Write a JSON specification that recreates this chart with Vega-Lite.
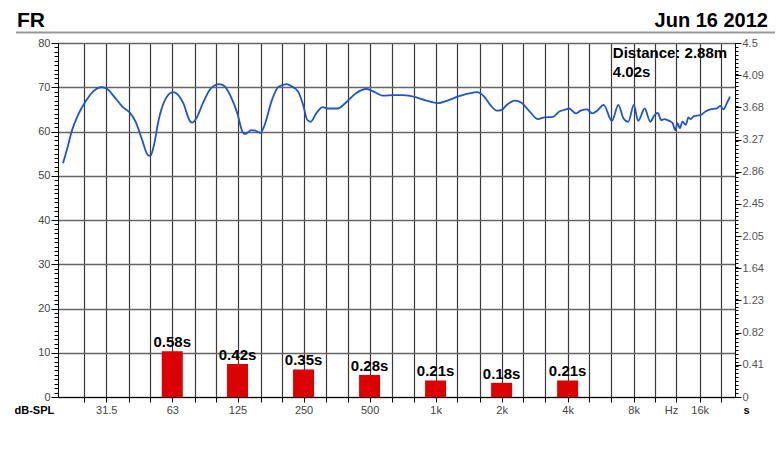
{
  "$schema": "https://vega.github.io/schema/vega-lite/v6.json",
  "autosize": {"type": "none"},
  "width": 677,
  "height": 354,
  "padding": {"left": 58, "top": 43, "right": 45, "bottom": 57},
  "background": "white",
  "config": {
    "font": "Liberation Sans",
    "view": {"stroke": null},
    "axis": {"labelFont": "Liberation Sans", "titleFont": "Liberation Sans", "domainColor": "#000", "tickColor": "#000"}
  },
  "datasets": {
    "fr": [
      {"freq": 20, "db": 52.8}, {"freq": 21.0, "db": 56.5}, {"freq": 21.9, "db": 60.0}, {"freq": 23.4, "db": 63.7},
      {"freq": 25.3, "db": 66.7}, {"freq": 27.4, "db": 69.0}, {"freq": 29.9, "db": 70.0}, {"freq": 31.4, "db": 69.8},
      {"freq": 34.2, "db": 67.9}, {"freq": 37.3, "db": 65.6}, {"freq": 40.4, "db": 64.2}, {"freq": 42.9, "db": 62.2},
      {"freq": 45.9, "db": 58.1}, {"freq": 48.7, "db": 54.7}, {"freq": 50.1, "db": 54.5}, {"freq": 51.8, "db": 56.6},
      {"freq": 54.6, "db": 62.6}, {"freq": 57.5, "db": 66.4}, {"freq": 63.3, "db": 68.9}, {"freq": 65.9, "db": 68.6},
      {"freq": 70.7, "db": 66.4}, {"freq": 76.2, "db": 62.2}, {"freq": 77.8, "db": 62.0}, {"freq": 81.1, "db": 63.0},
      {"freq": 86.9, "db": 66.4}, {"freq": 94.7, "db": 69.8}, {"freq": 103.3, "db": 70.7}, {"freq": 108.8, "db": 70.3},
      {"freq": 116.5, "db": 67.9}, {"freq": 124.8, "db": 64.1}, {"freq": 131.4, "db": 60.0}, {"freq": 135.2, "db": 59.4},
      {"freq": 144.7, "db": 60.3}, {"freq": 150.8, "db": 60.2}, {"freq": 158.9, "db": 59.7}, {"freq": 166.2, "db": 61.5},
      {"freq": 179.3, "db": 67.1}, {"freq": 192.1, "db": 70.1}, {"freq": 209.4, "db": 70.7}, {"freq": 220.5, "db": 70.2},
      {"freq": 236.4, "db": 69.0}, {"freq": 248.9, "db": 66.0}, {"freq": 260.2, "db": 62.6}, {"freq": 269.3, "db": 62.2},
      {"freq": 285.6, "db": 64.1}, {"freq": 306.1, "db": 65.5}, {"freq": 322.3, "db": 65.2}, {"freq": 357.5, "db": 65.2},
      {"freq": 389.6, "db": 66.5}, {"freq": 432, "db": 68.6}, {"freq": 484, "db": 69.6}, {"freq": 513, "db": 69.2},
      {"freq": 579, "db": 68.1}, {"freq": 642, "db": 68.2}, {"freq": 712, "db": 68.2}, {"freq": 818, "db": 67.7},
      {"freq": 907, "db": 67.0}, {"freq": 1023, "db": 66.4}, {"freq": 1134, "db": 67.0}, {"freq": 1280, "db": 68.0},
      {"freq": 1419, "db": 68.6}, {"freq": 1547, "db": 68.9}, {"freq": 1658, "db": 68.0}, {"freq": 1776, "db": 66.0},
      {"freq": 1903, "db": 64.7}, {"freq": 2004, "db": 64.9}, {"freq": 2110, "db": 66.0}, {"freq": 2302, "db": 67.0},
      {"freq": 2464, "db": 66.5}, {"freq": 2688, "db": 64.5}, {"freq": 2929, "db": 62.8}, {"freq": 3138, "db": 63.2},
      {"freq": 3420, "db": 63.3}, {"freq": 3666, "db": 64.5}, {"freq": 3924, "db": 65.0}, {"freq": 4064, "db": 65.2},
      {"freq": 4354, "db": 64.1}, {"freq": 4582, "db": 64.7}, {"freq": 4911, "db": 65.0}, {"freq": 5174, "db": 64.1},
      {"freq": 5450, "db": 64.7}, {"freq": 5840, "db": 66.0}, {"freq": 6361, "db": 62.4}, {"freq": 6817, "db": 66.0},
      {"freq": 7180, "db": 63.0}, {"freq": 7563, "db": 62.2}, {"freq": 8014, "db": 66.0}, {"freq": 8388, "db": 62.4},
      {"freq": 8979, "db": 65.2}, {"freq": 9526, "db": 62.2}, {"freq": 9961, "db": 63.7}, {"freq": 10313, "db": 64.2},
      {"freq": 10675, "db": 62.6}, {"freq": 11046, "db": 62.8}, {"freq": 11632, "db": 62.4}, {"freq": 12044, "db": 61.9},
      {"freq": 12375, "db": 60.3}, {"freq": 12686, "db": 61.9}, {"freq": 12990, "db": 60.7}, {"freq": 13364, "db": 62.2},
      {"freq": 13826, "db": 61.5}, {"freq": 14216, "db": 63.2}, {"freq": 14557, "db": 62.8}, {"freq": 15066, "db": 63.5},
      {"freq": 16146, "db": 63.7}, {"freq": 17003, "db": 64.5}, {"freq": 17904, "db": 65.0}, {"freq": 19188, "db": 65.2},
      {"freq": 19858, "db": 65.8}, {"freq": 20537, "db": 65.0}, {"freq": 21280, "db": 66.4}, {"freq": 22000, "db": 67.9}
    ],
    "rt": [
      {"freq": 63, "rt": 0.58, "label": "0.58s"},
      {"freq": 125, "rt": 0.42, "label": "0.42s"},
      {"freq": 250, "rt": 0.35, "label": "0.35s"},
      {"freq": 500, "rt": 0.28, "label": "0.28s"},
      {"freq": 1000, "rt": 0.21, "label": "0.21s"},
      {"freq": 2000, "rt": 0.18, "label": "0.18s"},
      {"freq": 4000, "rt": 0.21, "label": "0.21s"}
    ],
    "notes": [
      {"kind": "info", "text": "Distance: 2.88m\n4.02s"},
      {"kind": "date", "text": "Jun 16 2012"},
      {"kind": "title", "text": "FR"}
    ]
  },
  "resolve": {"scale": {"y": "independent"}},
  "layer": [
    {
      "data": {"name": "fr"},
      "mark": {"type": "line", "color": "#1f55cc", "strokeWidth": 1.8, "interpolate": "monotone"},
      "encoding": {
        "x": {
          "field": "freq", "type": "quantitative",
          "scale": {"type": "log", "domain": [20, 22000], "nice": false},
          "axis": {
            "values": [25, 31.5, 40, 50, 63, 80, 100, 125, 160, 200, 250, 315, 400, 500, 630, 800, 1000, 1250, 1600, 2000, 2500, 3150, 4000, 5000, 6300, 8000, 10000, 12500, 16000, 20000],
            "labelExpr": "indexof([31.5,63,125,250,500,1000,2000,4000,8000,16000], datum.value) < 0 ? '' : (datum.value >= 1000 ? (datum.value/1000) + 'k' : datum.value + '')",
            "labelOverlap": false, "labelFlush": false,
            "grid": true, "gridColor": "#3a3a3a", "gridWidth": 1.2,
            "tickSize": 5, "labelPadding": 2, "labelFontSize": 11, "labelColor": "#444",
            "title": "Hz", "titleX": 613, "titleY": 13, "titleAlign": "center", "titleBaseline": "middle",
            "titleFontWeight": "normal", "titleFontSize": 11, "titleColor": "#444"
          }
        },
        "y": {
          "field": "db", "type": "quantitative",
          "scale": {"domain": [0, 80], "nice": false, "zero": true},
          "axis": {
            "orient": "left",
            "values": [0, 10, 20, 30, 40, 50, 60, 70, 80],
            "grid": true, "gridColor": "#666666", "gridWidth": 1.4,
            "tickSize": 7, "labelPadding": 1, "labelFontSize": 11, "labelColor": "#444",
            "title": "dB-SPL", "titleAngle": 0, "titleX": -44, "titleY": 367, "titleAlign": "left", "titleBaseline": "middle",
            "titleFontWeight": "bold", "titleFontSize": 11, "titleColor": "#000"
          }
        }
      }
    },
    {
      "data": {"name": "fr"},
      "mark": {"type": "line", "strokeOpacity": 0},
      "encoding": {
        "x": {"field": "freq", "type": "quantitative"},
        "y": {
          "field": "db", "type": "quantitative",
          "scale": {"domain": [0, 80], "nice": false, "zero": true},
          "axis": {"orient": "left", "tickCount": 80, "tickSize": 4, "labels": false, "grid": false, "domain": false, "title": null}
        }
      }
    },
    {
      "data": {"name": "rt"},
      "mark": {"type": "bar", "color": "#dd0000", "size": 21},
      "encoding": {
        "x": {"field": "freq", "type": "quantitative"},
        "y": {
          "field": "rt", "type": "quantitative",
          "scale": {"domain": [0, 4.5], "nice": false, "zero": true},
          "axis": {
            "orient": "right",
            "values": [0, 0.4090909, 0.8181818, 1.2272727, 1.6363636, 2.0454545, 2.4545454, 2.8636363, 3.2727272, 3.6818181, 4.0909090, 4.5],
            "labelExpr": "format(datum.value, '.2~f')",
            "grid": false, "tickSize": 6, "labelPadding": 1, "labelFontSize": 11, "labelColor": "#555",
            "title": "s", "titleAngle": 0, "titleX": 8, "titleY": 367, "titleAlign": "left", "titleBaseline": "middle",
            "titleFontWeight": "bold", "titleFontSize": 11, "titleColor": "#000"
          }
        }
      }
    },
    {
      "data": {"name": "rt"},
      "mark": {"type": "bar", "opacity": 0},
      "encoding": {
        "x": {"field": "freq", "type": "quantitative"},
        "y": {
          "field": "rt", "type": "quantitative",
          "scale": {"domain": [0, 4.5], "nice": false, "zero": true},
          "axis": {"orient": "right", "tickCount": 100, "tickSize": 3, "labels": false, "grid": false, "domain": false, "title": null}
        }
      }
    },
    {
      "data": {"name": "rt"},
      "mark": {"type": "text", "dy": -4, "baseline": "alphabetic", "fontSize": 15, "fontWeight": "bold", "color": "#000"},
      "encoding": {
        "x": {"field": "freq", "type": "quantitative"},
        "y": {"field": "rt", "type": "quantitative", "scale": {"domain": [0, 4.5], "nice": false, "zero": true}, "axis": null},
        "text": {"field": "label"}
      }
    },
    {
      "data": {"name": "notes"},
      "transform": [{"filter": "datum.kind === 'info'"}],
      "mark": {"type": "text", "align": "left", "baseline": "alphabetic", "fontSize": 15, "fontWeight": "bold", "color": "#000", "lineBreak": "\n", "lineHeight": 19},
      "encoding": {
        "x": {"datum": 6430, "type": "quantitative"},
        "y": {"datum": 76.6, "type": "quantitative", "scale": {"domain": [0, 80], "nice": false, "zero": true}, "axis": null},
        "text": {"field": "text"}
      }
    },
    {
      "data": {"name": "notes"},
      "transform": [{"filter": "datum.kind === 'date'"}],
      "mark": {"type": "text", "align": "right", "baseline": "alphabetic", "dx": 38, "dy": -16, "fontSize": 20, "fontWeight": "bold", "color": "#000"},
      "encoding": {
        "x": {"datum": 22000, "type": "quantitative"},
        "y": {"datum": 80, "type": "quantitative", "scale": {"domain": [0, 80], "nice": false, "zero": true}, "axis": null},
        "text": {"field": "text"}
      }
    },
    {
      "data": {"name": "notes"},
      "transform": [{"filter": "datum.kind === 'title'"}],
      "mark": {"type": "text", "align": "left", "baseline": "alphabetic", "dx": -46, "dy": -16, "fontSize": 21, "fontWeight": "bold", "color": "#000"},
      "encoding": {
        "x": {"datum": 20, "type": "quantitative"},
        "y": {"datum": 80, "type": "quantitative", "scale": {"domain": [0, 80], "nice": false, "zero": true}, "axis": null},
        "text": {"field": "text"}
      }
    },
    {
      "data": {"values": [{"kind": "header-rule"}]},
      "mark": {"type": "rule", "color": "#999", "strokeWidth": 2, "xOffset": -47, "x2Offset": 45, "yOffset": -10.5, "clip": false},
      "encoding": {
        "x": {"datum": 20, "type": "quantitative"},
        "x2": {"datum": 22000},
        "y": {"datum": 80, "type": "quantitative", "scale": {"domain": [0, 80], "nice": false, "zero": true}, "axis": null}
      }
    }
  ]
}
